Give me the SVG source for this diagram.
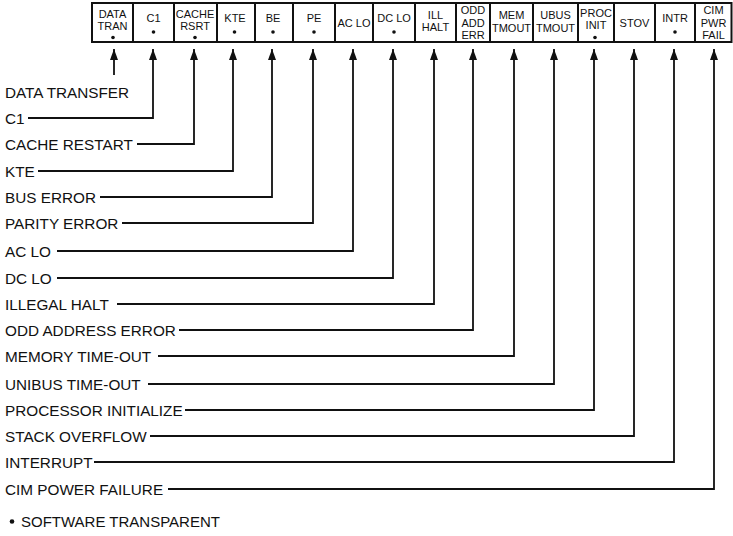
<svg xmlns="http://www.w3.org/2000/svg" width="733" height="536" viewBox="0 0 733 536">
<defs>
<style>
.bx{fill:#fff;stroke:#111;stroke-width:2}
.bt{font-family:"Liberation Sans",Arial,Helvetica,sans-serif;font-size:11px;fill:#111;text-anchor:middle}
.lb{font-family:"Liberation Sans",Arial,Helvetica,sans-serif;font-size:15.3px;fill:#111}
.dot{fill:#111}
.cn{fill:none;stroke:#111;stroke-width:1.8;marker-end:url(#ah)}
</style>
<marker id="ah" viewBox="0 0 11 8" refX="11" refY="4" markerWidth="11" markerHeight="8" markerUnits="userSpaceOnUse" orient="auto">
<path d="M0,0 L11,4 L0,8 z" fill="#111"/>
</marker>
</defs>
<rect width="733" height="536" fill="#fff"/>

<g id="box-data-tran"><rect class="bx" x="92" y="3" width="41" height="39"/><text class="bt" x="112.5" y="17.5">DATA</text><text class="bt" x="112.5" y="30.1">TRAN</text><circle class="dot" cx="113" cy="37.5" r="1.8"/></g>
<g id="box-c1"><rect class="bx" x="133" y="3" width="41" height="39"/><text class="bt" x="153.5" y="22">C1</text><circle class="dot" cx="153.5" cy="32" r="1.8"/></g>
<g id="box-cache-rsrt"><rect class="bx" x="174" y="3" width="43" height="39"/><text class="bt" x="195" y="17.5">CACHE</text><text class="bt" x="195" y="30.1">RSRT</text><circle class="dot" cx="195" cy="37.5" r="1.8"/></g>
<g id="box-kte"><rect class="bx" x="217" y="3" width="38" height="39"/><text class="bt" x="235" y="22">KTE</text><circle class="dot" cx="234.5" cy="32" r="1.8"/></g>
<g id="box-be"><rect class="bx" x="255" y="3" width="38" height="39"/><text class="bt" x="273" y="22">BE</text><circle class="dot" cx="273" cy="32" r="1.8"/></g>
<g id="box-pe"><rect class="bx" x="293" y="3" width="42" height="39"/><text class="bt" x="314" y="22">PE</text><circle class="dot" cx="314" cy="32" r="1.8"/></g>
<g id="box-ac-lo"><rect class="bx" x="335" y="3" width="38" height="39"/><text class="bt" x="354" y="27">AC LO</text></g>
<g id="box-dc-lo"><rect class="bx" x="373" y="3" width="42" height="39"/><text class="bt" x="394" y="22">DC LO</text><circle class="dot" cx="394" cy="32" r="1.8"/></g>
<g id="box-ill-halt"><rect class="bx" x="415" y="3" width="41" height="39"/><text class="bt" x="435.5" y="18.5">ILL</text><text class="bt" x="435.5" y="31.1">HALT</text></g>
<g id="box-odd-add-err"><rect class="bx" x="456" y="3" width="34" height="39"/><text class="bt" x="473" y="14">ODD</text><text class="bt" x="473" y="26.6">ADD</text><text class="bt" x="473" y="39.2">ERR</text></g>
<g id="box-mem-tmout"><rect class="bx" x="490" y="3" width="43" height="39"/><text class="bt" x="511.5" y="19">MEM</text><text class="bt" x="511.5" y="31.6">TMOUT</text></g>
<g id="box-ubus-tmout"><rect class="bx" x="533" y="3" width="45" height="39"/><text class="bt" x="555.5" y="19">UBUS</text><text class="bt" x="555.5" y="31.6">TMOUT</text></g>
<g id="box-proc-init"><rect class="bx" x="578" y="3" width="36" height="39"/><text class="bt" x="596" y="16.5">PROC</text><text class="bt" x="596" y="29.1">INIT</text><circle class="dot" cx="595" cy="37.5" r="1.8"/></g>
<g id="box-stov"><rect class="bx" x="614" y="3" width="41" height="39"/><text class="bt" x="634.5" y="27">STOV</text></g>
<g id="box-intr"><rect class="bx" x="655" y="3" width="40" height="39"/><text class="bt" x="675" y="22">INTR</text><circle class="dot" cx="675" cy="32" r="1.8"/></g>
<g id="box-cim-pwr-fail"><rect class="bx" x="695" y="3" width="36.5" height="39"/><text class="bt" x="713.5" y="14">CIM</text><text class="bt" x="713.5" y="26.6">PWR</text><text class="bt" x="713.5" y="39.2">FAIL</text></g>

<g id="labels">
<g id="label-data-transfer"><text class="lb" x="5" y="97.5">DATA TRANSFER</text></g>
<g id="label-c1"><text class="lb" x="5" y="123.5">C1</text></g>
<g id="label-cache-restart"><text class="lb" x="5" y="149.5">CACHE RESTART</text></g>
<g id="label-kte"><text class="lb" x="5" y="176.5">KTE</text></g>
<g id="label-bus-error"><text class="lb" x="5" y="202.5">BUS ERROR</text></g>
<g id="label-parity-error"><text class="lb" x="5" y="228.5">PARITY ERROR</text></g>
<g id="label-ac-lo"><text class="lb" x="5" y="256.5">AC LO</text></g>
<g id="label-dc-lo"><text class="lb" x="5" y="283.5">DC LO</text></g>
<g id="label-illegal-halt"><text class="lb" x="5" y="309.5">ILLEGAL HALT</text></g>
<g id="label-odd-address-error"><text class="lb" x="5" y="335.5">ODD ADDRESS ERROR</text></g>
<g id="label-memory-time-out"><text class="lb" x="5" y="361.5">MEMORY TIME-OUT</text></g>
<g id="label-unibus-time-out"><text class="lb" x="5" y="389.5">UNIBUS TIME-OUT</text></g>
<g id="label-processor-initialize"><text class="lb" x="5" y="415.5">PROCESSOR INITIALIZE</text></g>
<g id="label-stack-overflow"><text class="lb" x="5" y="441.5">STACK OVERFLOW</text></g>
<g id="label-interrupt"><text class="lb" x="5" y="467.5">INTERRUPT</text></g>
<g id="label-cim-power-failure"><text class="lb" x="5" y="494.5">CIM POWER FAILURE</text></g>
<g id="label-software-transparent"><circle class="dot" cx="12" cy="521.5" r="2.3"/><text class="lb" x="21" y="527" style="font-size:15px">SOFTWARE TRANSPARENT</text></g>
</g>

<g id="connectors">
<path class="cn" d="M114,75 V49"/>
<path class="cn" d="M28,118 H153 V49"/>
<path class="cn" d="M137,144 H194 V49"/>
<path class="cn" d="M38,171 H233 V49"/>
<path class="cn" d="M100,197 H272 V49"/>
<path class="cn" d="M122,223 H313 V49"/>
<path class="cn" d="M57,251 H353 V49"/>
<path class="cn" d="M57,278 H393 V49"/>
<path class="cn" d="M117,304 H434 V49"/>
<path class="cn" d="M179,330 H473 V49"/>
<path class="cn" d="M158,356 H514 V49"/>
<path class="cn" d="M148,384 H554 V49"/>
<path class="cn" d="M185,410 H594 V49"/>
<path class="cn" d="M150,436 H634 V49"/>
<path class="cn" d="M94,462 H674 V49"/>
<path class="cn" d="M168,489 H714 V49"/>
</g>
</svg>
